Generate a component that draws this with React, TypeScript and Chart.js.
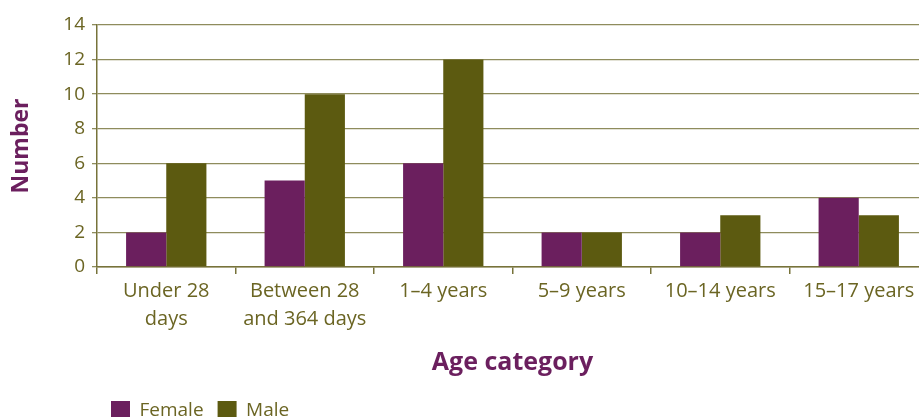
import React, { useEffect, useRef } from "react";
import { Chart, registerables } from "chart.js";

Chart.register(...registerables);

const categories: (string | string[])[] = [
  ["Under 28", "days"],
  ["Between 28", "and 364 days"],
  "1–4 years",
  "5–9 years",
  "10–14 years",
  "15–17 years",
];
const femaleValues = [2, 5, 6, 2, 2, 4];
const maleValues = [6, 10, 12, 2, 3, 3];
const yTicks = [0, 2, 4, 6, 8, 10, 12, 14];

const PURPLE = "#6b1f5e";
const OLIVE = "#5c5a10";
const TEXT = "#6b6523";
const GRID = "#8e8c5c";
const AXIS = "#77733a";
const FONT = "'Open Sans', 'Noto Sans', sans-serif";

export default function App() {
  const ref = useRef<HTMLCanvasElement | null>(null);
  useEffect(() => {
    if (!ref.current) return;
    const chart = new Chart(ref.current, {
      type: "bar",
      data: {
        labels: categories,
        datasets: [
          { label: "Female", data: femaleValues, backgroundColor: PURPLE, borderWidth: 0 },
          { label: "Male", data: maleValues, backgroundColor: OLIVE, borderWidth: 0 },
        ],
      },
      options: {
        responsive: false,
        animation: false,
        devicePixelRatio: 1,
        layout: { padding: { top: 25, right: 12, left: 0, bottom: 0 } },
        datasets: { bar: { categoryPercentage: 0.58, barPercentage: 1 } },
        plugins: {
          tooltip: { enabled: false },
          legend: {
            position: "bottom",
            align: "start",
            fullSize: false,
            labels: {
              color: TEXT,
              font: { family: FONT, size: 19 },
              boxWidth: 19,
              boxHeight: 19,
              padding: 14,
            },
          },
        },
        scales: {
          x: {
            grid: {
              offset: true,
              drawOnChartArea: false,
              drawTicks: true,
              tickLength: 7,
              color: AXIS,
              lineWidth: 1.5,
            },
            border: { color: AXIS, width: 1.5 },
            ticks: {
              color: TEXT,
              font: { family: FONT, size: 20, lineHeight: 1.4 },
              padding: 3,
              maxRotation: 0,
              autoSkip: false,
            },
            title: {
              display: true,
              text: "Age category",
              color: PURPLE,
              font: { family: FONT, size: 25, weight: "bold" },
              padding: { top: 0, bottom: 9 },
            },
            afterFit: (scale: any) => {
              scale.height = 120;
            },
          },
          y: {
            min: 0,
            max: 14,
            afterBuildTicks: (scale: any) => {
              scale.ticks = yTicks.map((v) => ({ value: v }));
            },
            grid: {
              color: GRID,
              lineWidth: 1.3,
              drawTicks: true,
              tickLength: 5,
            },
            border: { color: AXIS, width: 1.5 },
            ticks: {
              color: TEXT,
              font: { family: FONT, size: 19 },
              padding: 7,
            },
            title: {
              display: true,
              text: "Number",
              color: PURPLE,
              font: { family: FONT, size: 23, weight: "bold" },
              padding: { top: 8, bottom: 0 },
            },
            afterFit: (scale: any) => {
              scale.width = 97;
            },
          },
        },
      },
    });
    return () => chart.destroy();
  }, []);
  return (
    <div style={{ position: "fixed", left: 0, top: 0, width: 919, height: 417, overflow: "hidden", background: "#fff" }}>
      <canvas ref={ref} width={940} height={430} style={{ width: 940, height: 430, display: "block" }} />
    </div>
  );
}
